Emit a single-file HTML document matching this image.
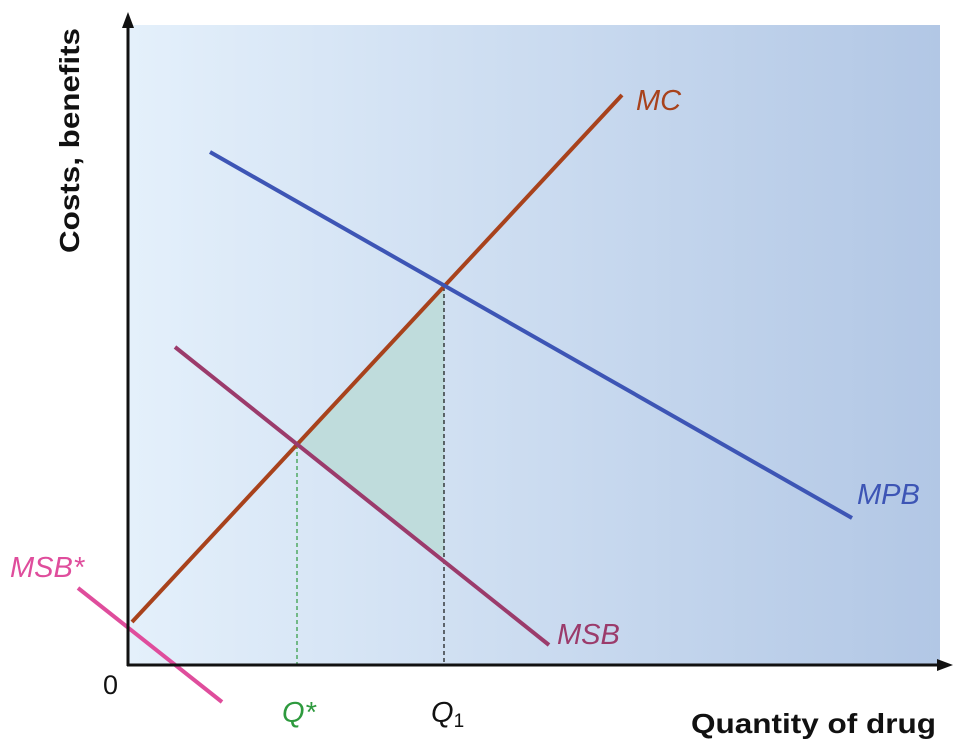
<!DOCTYPE html>
<html><head><meta charset="utf-8"><style>
html,body{margin:0;padding:0;background:#fff;}
svg{display:block;}
text{font-family:"Liberation Sans",Arial,sans-serif;}
</style></head><body>
<svg width="973" height="744" viewBox="0 0 973 744" xmlns="http://www.w3.org/2000/svg">
<defs>
<linearGradient id="bg" x1="0" y1="0" x2="1" y2="0">
<stop offset="0" stop-color="#e4f0fb"/>
<stop offset="1" stop-color="#b2c7e5"/>
</linearGradient>
</defs>
<rect x="128" y="25" width="812" height="640" fill="url(#bg)"/>
<polygon points="297,445 444,287 444,558" fill="#bfdcdc"/>
<line x1="297" y1="445" x2="297" y2="665" stroke="#2e9a3e" stroke-width="1.2" stroke-dasharray="4,3"/>
<line x1="444" y1="287" x2="444" y2="665" stroke="#111" stroke-width="1.2" stroke-dasharray="4,3"/>
<line x1="132" y1="622" x2="622" y2="95" stroke="#a8421c" stroke-width="4"/>
<line x1="210" y1="152" x2="852" y2="518" stroke="#3d55b5" stroke-width="4"/>
<line x1="175" y1="347" x2="549" y2="645" stroke="#9b3b6b" stroke-width="4"/>
<line x1="78" y1="588" x2="222" y2="702" stroke="#df4d9c" stroke-width="4"/>
<line x1="128" y1="20" x2="128" y2="666" stroke="#111" stroke-width="3"/>
<polygon points="128,12 122,28 134,28" fill="#111"/>
<line x1="127" y1="665" x2="945" y2="665" stroke="#111" stroke-width="3"/>
<polygon points="953,665 937,659 937,671" fill="#111"/>
<g font-size="29" font-style="italic">
<text x="636" y="110" fill="#a8421c">MC</text>
<text x="857" y="504" fill="#3d55b5">MPB</text>
<text x="557" y="644" fill="#9b3b6b">MSB</text>
<text x="10" y="577" fill="#df4d9c">MSB*</text>
<text x="282" y="722" fill="#2e9a3e">Q*</text>
<text x="431" y="722" fill="#111">Q<tspan font-style="normal" font-size="19" dy="5">1</tspan></text>
</g>
<text x="103" y="694" font-size="27" fill="#111">0</text>
<text x="691" y="733" font-size="28" font-weight="bold" fill="#111" textLength="245" lengthAdjust="spacingAndGlyphs">Quantity of drug</text>
<text transform="translate(79,253) rotate(-90)" font-size="28" font-weight="bold" fill="#111" textLength="225" lengthAdjust="spacingAndGlyphs">Costs, benefits</text>
</svg>
</body></html>
